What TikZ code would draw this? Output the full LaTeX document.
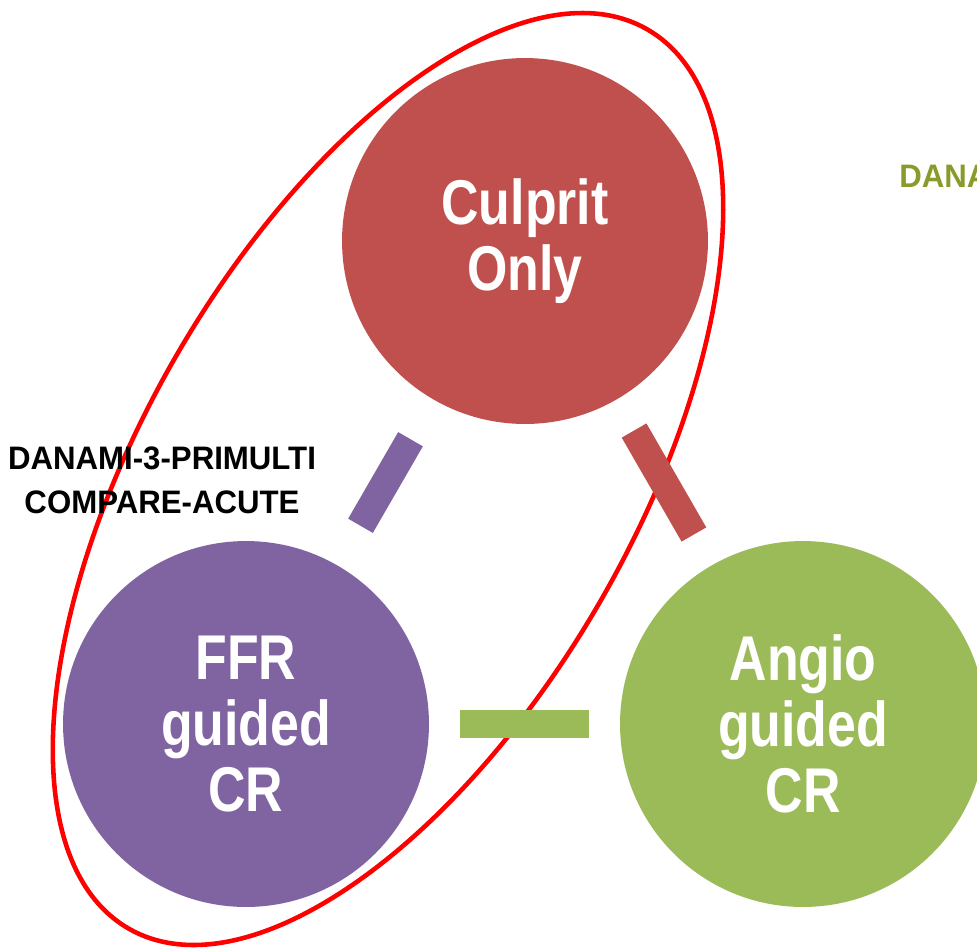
\documentclass[tikz,border=0pt]{standalone}
\usepackage{fontspec}
\newfontfamily\narrowfont{Liberation Sans}[FakeStretch=0.82]
\newfontfamily\labelfont{Liberation Sans}[FakeStretch=0.96]
\usepackage{tikz}
\usetikzlibrary{positioning}
\usetikzlibrary{calc}
\definecolor{culpritred}{HTML}{C0504D}
\definecolor{ffrpurple}{HTML}{8064A2}
\definecolor{angiogreen}{HTML}{9BBB59}
\definecolor{danaolive}{RGB}{138,154,43}
\tikzstyle{bigvertex}=[circle,draw=none,minimum size=7.32cm,inner sep=0pt,text=white,align=center,font=\narrowfont\bfseries\fontsize{36}{37.5}\selectfont]
\tikzstyle{bar}=[rectangle,draw=none,minimum height=0.57cm,inner sep=0pt,sloped]
\tikzstyle{trial} = [align=center,font=\labelfont\bfseries\fontsize{18.5}{25}\selectfont]

\begin{document}
\begin{tikzpicture}[x=0.02cm,y=-0.02cm]
\useasboundingbox (0,0) rectangle (977,951);

    % The red ring round the two arms first
    \draw[red, line width=2.6pt, rotate around={60:(388,479)}] (388,479) ellipse [x radius=519, y radius=245];

    % First we draw the vertices
    \foreach \pos/\name/\label/\col in {{(525,241)/culprit/Culprit\\Only/culpritred}, {(246,724)/ffr/FFR\\guided\\CR/ffrpurple}, {(803,724)/angio/Angio\\guided\\CR/angiogreen}}
        \node[bigvertex, fill=\col] (\name) at \pos {\label};

    % Connect vertices with bars
  \foreach \source/ \dest /\len/\col in {ffr/culprit/2.0cm/ffrpurple, culprit/angio/2.4cm/culpritred, ffr/angio/2.6cm/angiogreen}
          \path (\source) -- node[bar, minimum width=\len, fill=\col] {} (\dest);

\node[trial] (dcl) at (162,480) {DANAMI-3-PRIMULTI\\COMPARE-ACUTE};
\node[trial, text=danaolive, anchor=base west, inner sep=0pt] (dana) at (899,187) {DANA};

   \end{tikzpicture}
\end{document}
